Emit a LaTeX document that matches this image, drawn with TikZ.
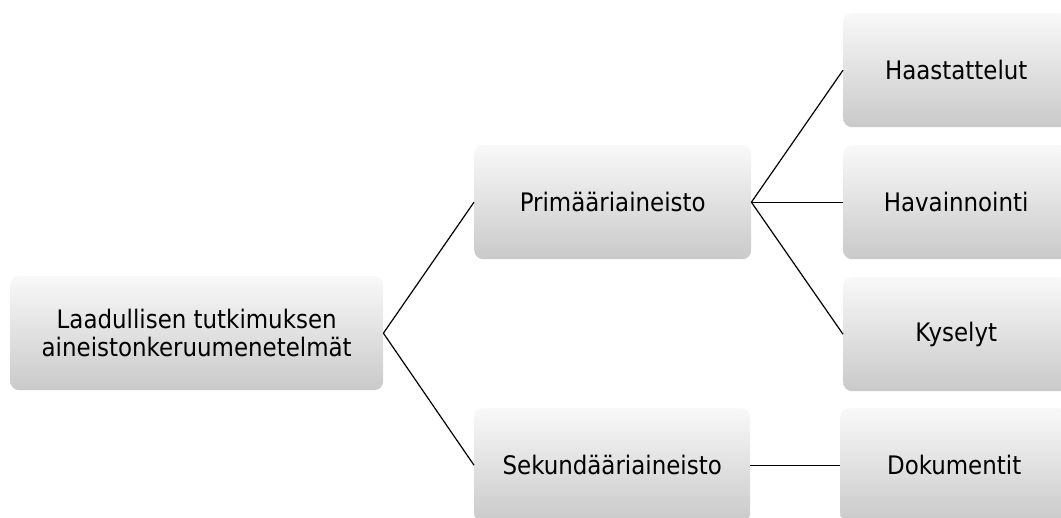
\documentclass[tikz,border=0pt]{standalone}
\usepackage{fontspec}
\setmainfont{DejaVu Sans Condensed}
\begin{document}
\begin{tikzpicture}[x=1pt,y=-1pt,
  box/.style={rounded corners=9pt, top color=gray!5, bottom color=gray!42, draw=none,
    minimum height=114pt, align=center, inner sep=0pt, font=\fontsize{25.5}{28}\selectfont},
  conn/.style={draw=black, line width=1.2pt}]
\useasboundingbox (0,0) rectangle (1061,518);
\clip (0,0) rectangle (1061,518);
\node[box, minimum width=373pt, anchor=north west] (root) at (10,276) {Laadullisen tutkimuksen\\aineistonkeruumenetelmät};
\node[box, minimum width=277pt, anchor=north west] (prim) at (474,145) {Primääriaineisto};
\node[box, minimum width=276pt, anchor=north west] (sek) at (474,408) {Sekundääriaineisto};
\node[box, minimum width=226pt, anchor=north west] (haas) at (843,13) {Haastattelut};
\node[box, minimum width=226pt, anchor=north west] (hav) at (843,145) {Havainnointi};
\node[box, minimum width=226pt, anchor=north west] (kys) at (843,277) {Kyselyt};
\node[box, minimum width=228pt, anchor=north west] (dok) at (840,408) {Dokumentit};
\draw[conn] (root.east) -- (prim.west);
\draw[conn] (root.east) -- (sek.west);
\draw[conn] (prim.east) -- (haas.west);
\draw[conn] (prim.east) -- (hav.west);
\draw[conn] (prim.east) -- (kys.west);
\draw[conn] (sek.east) -- (dok.west);
\end{tikzpicture}
\end{document}
